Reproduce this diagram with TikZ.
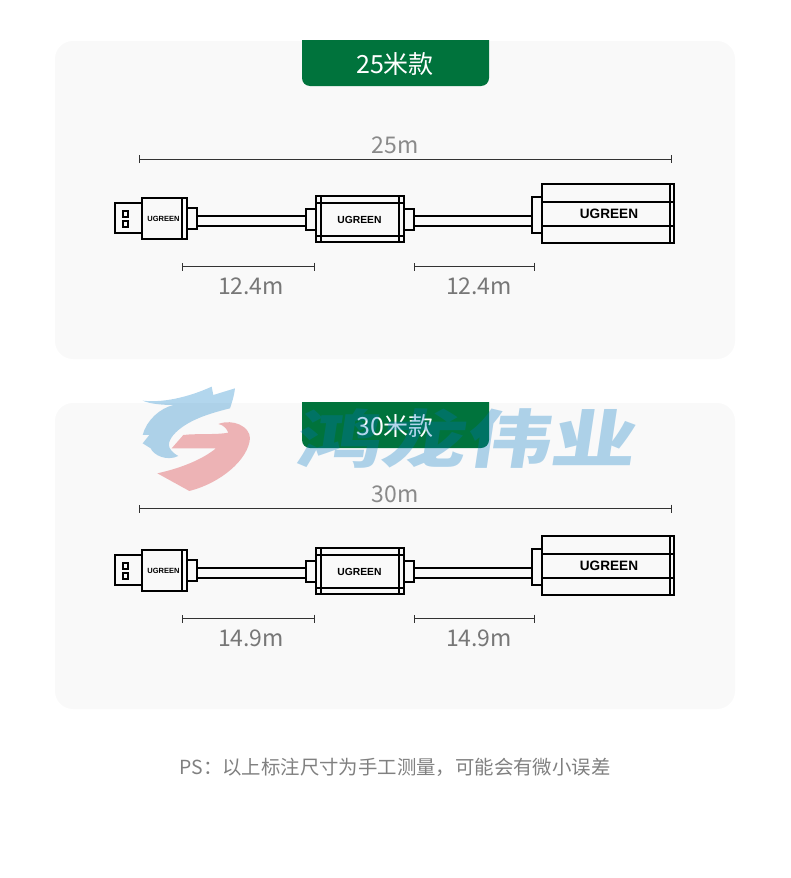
\documentclass[tikz,border=0pt]{standalone}
\usepackage{fontspec}
\setmainfont{Noto Sans CJK SC}
\newfontfamily\logofont{Liberation Sans}
\usetikzlibrary{arrows.meta}
\definecolor{panelgray}{HTML}{F9F9F9}
\definecolor{tabgreen}{HTML}{00733C}
\definecolor{marklabel}{HTML}{777777}
\definecolor{longlabel}{HTML}{8A8A8A}
\definecolor{notegray}{HTML}{808080}
\definecolor{markblue}{RGB}{0,118,195}
\definecolor{markred}{RGB}{210,20,27}
\tikzset{
    part/.style={draw=black, line width=1.9pt, inner sep=0pt, fill=panelgray},
    inner line/.style={draw=black, line width=1.9pt},
    dimline/.style={draw=black!80, line width=0.9pt, {Bar[width=8pt,line width=0.9pt]}-{Bar[width=8pt,line width=0.9pt]}},
    panel/.style={fill=panelgray, draw=none, inner sep=0pt, rounded corners=18pt},
    tab/.style={fill=tabgreen, draw=none},
    brand/.style={font=\logofont\bfseries\fontsize{#1}{#1}\selectfont, inner sep=0pt}
}
\begin{document}
\begin{tikzpicture}[x=1pt,y=-1pt]
    \useasboundingbox (0,0) rectangle (790,878);

    % Panels
    \node[panel, minimum width=680pt, minimum height=318pt] (panelA) at (395,200) {};
    \node[panel, minimum width=680pt, minimum height=306pt] (panelB) at (395,556) {};

    % 25 tab
    \fill[tab, rounded corners=8pt] (302,30) -- (302,86) -- (489,86) -- (489,30) -- cycle;
    \fill[white] (295,20) rectangle (495,40);
    \node[white, font=\fontsize{25}{25}\selectfont] (tabA) at (395,64) {25米款};

    % 30 tab
    \begin{scope}
        \clip (290,402) rectangle (500,460);
        \fill[tab, rounded corners=8pt] (302,385) -- (302,448) -- (489,448) -- (489,385) -- cycle;
    \end{scope}
    \node[white, font=\fontsize{25}{25}\selectfont] (tabB) at (395,426) {30米款};

    % Overall lengths
    \coordinate (longAl) at (139,159);
    \coordinate (longAr) at (671.5,159);
    \draw[dimline] (longAl) -- (longAr);
    \node[longlabel, font=\fontsize{23}{23}\selectfont] (longA) at (395,145) {25m};
    \coordinate (longBl) at (139,508.5);
    \coordinate (longBr) at (671.5,508.5);
    \draw[dimline] (longBl) -- (longBr);
    \node[longlabel, font=\fontsize{23}{23}\selectfont] (longB) at (395,494) {30m};

    % Cable, 25 m
    \coordinate (topA) at (0,216);
    \coordinate (botA) at (0,225.7);
    \node[part, minimum width=27pt, minimum height=29.4pt] (usbA) at (128.2,218) {};
    \node[part, minimum width=5pt, minimum height=6pt] (holeAa) at (125.8,213.7) {};
    \node[part, minimum width=5pt, minimum height=6pt] (holeAb) at (125.8,223.7) {};
    \node[part, minimum width=45.6pt, minimum height=41.3pt] (plugA) at (164.5,218.4) {};
    \draw[inner line] (182.3,197.7) -- (182.3,239);
    \node[brand=7.5] (plugtextA) at (163.5,219) {UGREEN};
    \node[part, minimum width=10pt, minimum height=21.3pt] (collarAa) at (192.3,218.4) {};
    \node[part, minimum width=10pt, minimum height=21pt] (collarAb) at (310.7,219.2) {};
    \draw[inner line] (collarAa.east |- topA) -- (collarAb.west |- topA);
    \draw[inner line] (collarAa.east |- botA) -- (collarAb.west |- botA);
    \node[part, minimum width=88.6pt, minimum height=45.7pt] (midA) at (360,218.9) {};
    \draw[inner line] (320.7,196) -- (320.7,241.7);
    \draw[inner line] (399,196) -- (399,241.7);
    \draw[inner line] (315.7,202.7) -- (404.3,202.7);
    \draw[inner line] (315.7,235.7) -- (404.3,235.7);
    \node[brand=10.3] (midtextA) at (359.5,220) {UGREEN};
    \node[part, minimum width=10pt, minimum height=21pt] (collarAc) at (409.3,219.2) {};
    \node[part, minimum width=10pt, minimum height=36pt] (collarAd) at (536.7,214.7) {};
    \draw[inner line] (collarAc.east |- topA) -- (collarAd.west |- topA);
    \draw[inner line] (collarAc.east |- botA) -- (collarAd.west |- botA);
    \node[part, minimum width=132.6pt, minimum height=58.7pt] (jackA) at (608,213.4) {};
    \draw[inner line] (541.7,202) -- (674.3,202);
    \draw[inner line] (541.7,226) -- (674.3,226);
    \draw[inner line] (670,184) -- (670,242.7);
    \node[brand=13.6] (jacktextA) at (609,214) {UGREEN};

    % Section lengths, 25 m
    \coordinate (secAa) at (182.3,266.5);
    \coordinate (secAb) at (314.5,266.5);
    \coordinate (secAc) at (414.3,266.5);
    \coordinate (secAd) at (534.5,266.5);
    \draw[dimline] (secAa) -- (secAb);
    \draw[dimline] (secAc) -- (secAd);
    \node[marklabel, font=\fontsize{23}{23}\selectfont] (lenAa) at (251,286) {12.4m};
    \node[marklabel, font=\fontsize{23}{23}\selectfont] (lenAb) at (479,286) {12.4m};

    % Cable, 30 m
    \begin{scope}[shift={(0,352)}]
    \coordinate (topB) at (0,216);
    \coordinate (botB) at (0,225.7);
    \node[part, minimum width=27pt, minimum height=29.4pt] (usbB) at (128.2,218) {};
    \node[part, minimum width=5pt, minimum height=6pt] (holeBa) at (125.8,213.7) {};
    \node[part, minimum width=5pt, minimum height=6pt] (holeBb) at (125.8,223.7) {};
    \node[part, minimum width=45.6pt, minimum height=41.3pt] (plugB) at (164.5,218.4) {};
    \draw[inner line] (182.3,197.7) -- (182.3,239);
    \node[brand=7.5] (plugtextB) at (163.5,219) {UGREEN};
    \node[part, minimum width=10pt, minimum height=21.3pt] (collarBa) at (192.3,218.4) {};
    \node[part, minimum width=10pt, minimum height=21pt] (collarBb) at (310.7,219.2) {};
    \draw[inner line] (collarBa.east |- topB) -- (collarBb.west |- topB);
    \draw[inner line] (collarBa.east |- botB) -- (collarBb.west |- botB);
    \node[part, minimum width=88.6pt, minimum height=45.7pt] (midB) at (360,218.9) {};
    \draw[inner line] (320.7,196) -- (320.7,241.7);
    \draw[inner line] (399,196) -- (399,241.7);
    \draw[inner line] (315.7,202.7) -- (404.3,202.7);
    \draw[inner line] (315.7,235.7) -- (404.3,235.7);
    \node[brand=10.3] (midtextB) at (359.5,220) {UGREEN};
    \node[part, minimum width=10pt, minimum height=21pt] (collarBc) at (409.3,219.2) {};
    \node[part, minimum width=10pt, minimum height=36pt] (collarBd) at (536.7,214.7) {};
    \draw[inner line] (collarBc.east |- topB) -- (collarBd.west |- topB);
    \draw[inner line] (collarBc.east |- botB) -- (collarBd.west |- botB);
    \node[part, minimum width=132.6pt, minimum height=58.7pt] (jackB) at (608,213.4) {};
    \draw[inner line] (541.7,202) -- (674.3,202);
    \draw[inner line] (541.7,226) -- (674.3,226);
    \draw[inner line] (670,184) -- (670,242.7);
    \node[brand=13.6] (jacktextB) at (609,214) {UGREEN};

    % Section lengths, 30 m
    \coordinate (secBa) at (182.3,266.5);
    \coordinate (secBb) at (314.5,266.5);
    \coordinate (secBc) at (414.3,266.5);
    \coordinate (secBd) at (534.5,266.5);
    \draw[dimline] (secBa) -- (secBb);
    \draw[dimline] (secBc) -- (secBd);
    \node[marklabel, font=\fontsize{23}{23}\selectfont] (lenBa) at (251,286) {14.9m};
    \node[marklabel, font=\fontsize{23}{23}\selectfont] (lenBb) at (479,286) {14.9m};
    \end{scope}

    % Note
    \node[notegray, font=\fontsize{19.4}{19.4}\selectfont] (note) at (395,767) {PS：以上标注尺寸为手工测量，可能会有微小误差};

    % Watermark
    \begin{scope}[shift={(130,380)}, x=0.3333pt, y=-0.3333pt, opacity=0.3]
        \fill[markblue] (38,62) .. controls (110,70) and (190,45) .. (245,20) -- (250,45) -- (315,25)
            .. controls (312,50) and (305,70) .. (300,85) .. controls (240,100) and (170,120) .. (130,165)
            .. controls (115,185) and (105,205) .. (145,228) .. controls (110,245) and (70,225) .. (62,205)
            -- (38,190) -- (58,165) -- (38,165) .. controls (50,120) and (90,85) .. (130,75)
            .. controls (100,75) and (60,72) .. (38,62) -- cycle;
        \fill[markred] (82,280) .. controls (150,265) and (215,240) .. (258,205) -- (125,205) -- (160,165)
            .. controls (200,160) and (260,165) .. (295,158) .. controls (290,145) and (280,135) .. (265,132)
            .. controls (310,115) and (360,140) .. (360,175) .. controls (355,240) and (270,310) .. (178,333) -- cycle;
    \end{scope}
    \node[markblue, opacity=0.3, inner sep=0pt, font=\bfseries\fontsize{85}{85}\selectfont, xslant=0.15, yscale=0.74] (markname) at (468,439) {鸿龙伟业};
\end{tikzpicture}
\end{document}
